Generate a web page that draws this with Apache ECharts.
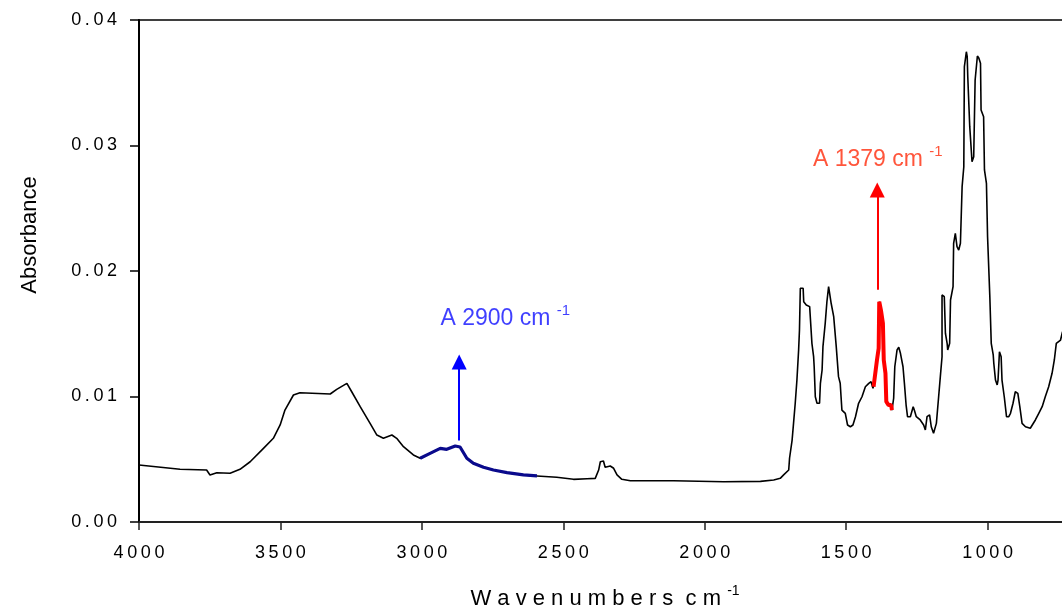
<!DOCTYPE html>
<html>
<head>
<meta charset="utf-8">
<title>IR spectrum</title>
<script src="https://cdn.jsdelivr.net/npm/echarts@6/dist/echarts.min.js"></script>
<style>
    html, body { margin: 0; padding: 0; background: #fff; }
    #chart { width: 1062px; height: 614px; }
</style>
</head>
<body>
<div id="chart"></div>
<script>
// spectrum (cm-1, absorbance)
const wavenumbers = [
    4000, 3855, 3761, 3749, 3725, 3678, 3643, 3607, 3560, 3525,
    3501, 3484, 3454, 3431, 3324, 3301, 3265, 3248, 3218, 3183,
    3159, 3136, 3106, 3089, 3065, 3030, 3006, 2971, 2935, 2912,
    2882, 2865, 2841, 2818, 2782, 2747, 2699, 2641, 2593, 2523,
    2464, 2416, 2387, 2375, 2369, 2358, 2352, 2334, 2322, 2310,
    2293, 2263, 2110, 1933, 1803, 1756, 1733, 1721, 1703, 1700,
    1691, 1686, 1680, 1674, 1668, 1665, 1662, 1652, 1650, 1644,
    1641, 1629, 1624, 1621, 1615, 1613, 1609, 1603, 1594, 1591,
    1585, 1582, 1574, 1568, 1562, 1556, 1553, 1544, 1535, 1527,
    1521, 1515, 1503, 1495, 1485, 1476, 1467, 1456, 1444, 1432,
    1420, 1412, 1405, 1403, 1391, 1385, 1383, 1377, 1370, 1367,
    1361, 1358, 1350, 1341, 1338, 1332, 1328, 1320, 1314, 1308,
    1299, 1294, 1288, 1283, 1273, 1263, 1259, 1252, 1238, 1226,
    1220, 1214, 1205, 1199, 1191, 1185, 1181, 1173, 1167, 1161,
    1161, 1153, 1149, 1143, 1141, 1134, 1131, 1122, 1120, 1114,
    1110, 1108, 1102, 1096, 1090, 1084, 1082, 1075, 1072, 1070,
    1063, 1055, 1049, 1044, 1036, 1031, 1025, 1023, 1014, 1011,
    1004, 1000, 992, 987, 980, 978, 972, 966, 963, 958,
    952, 949, 941, 933, 925, 919, 910, 902, 893, 886,
    878, 866, 849, 843, 831, 819, 807, 796, 784, 772,
    764, 757, 742, 735
];
const absorbance = [
    0.00454, 0.00420, 0.00414, 0.00375, 0.00393, 0.00388, 0.00420, 0.00480, 0.00587, 0.00667,
    0.00773, 0.00892, 0.01012, 0.01030, 0.01020, 0.01057, 0.01105, 0.01038, 0.00919, 0.00786,
    0.00693, 0.00667, 0.00693, 0.00667, 0.00600, 0.00534, 0.00508, 0.00547, 0.00587, 0.00579,
    0.00606, 0.00598, 0.00508, 0.00468, 0.00436, 0.00414, 0.00393, 0.00375, 0.00367, 0.00356,
    0.00340, 0.00345, 0.00348, 0.00414, 0.00480, 0.00486, 0.00436, 0.00446, 0.00428, 0.00375,
    0.00340, 0.00329, 0.00329, 0.00321, 0.00324, 0.00335, 0.00348, 0.00375, 0.00414, 0.00510,
    0.00653, 0.00786, 0.00946, 0.01131, 0.01371, 0.01530, 0.01862, 0.01862, 0.01755, 0.01755,
    0.01729, 0.01716, 0.01703, 0.01424, 0.01317, 0.01237, 0.00998, 0.00946, 0.00946, 0.01105,
    0.01211, 0.01397, 0.01583, 0.01755, 0.01875, 0.01875, 0.01743, 0.01636, 0.01397, 0.01158,
    0.01105, 0.00892, 0.00866, 0.00773, 0.00759, 0.00773, 0.00839, 0.00946, 0.00998, 0.01078,
    0.01105, 0.01118, 0.01065, 0.01078, 0.01291, 0.01384, 0.01755, 0.01689, 0.01583, 0.01291,
    0.01185, 0.00959, 0.00932, 0.00932, 0.00892, 0.00986, 0.01237, 0.01371, 0.01392, 0.01344,
    0.01237, 0.01105, 0.00932, 0.00839, 0.00839, 0.00919, 0.00892, 0.00839, 0.00813, 0.00773,
    0.00733, 0.00839, 0.00853, 0.00759, 0.00707, 0.00693, 0.00786, 0.00998, 0.01158, 0.01317,
    0.01809, 0.01795, 0.01504, 0.01424, 0.01371, 0.01424, 0.01769, 0.01875, 0.02221, 0.02300,
    0.02300, 0.02194, 0.02167, 0.02221, 0.02672, 0.02831, 0.03628, 0.03747, 0.03708, 0.03548,
    0.03150, 0.02871, 0.02911, 0.03522, 0.03713, 0.03697, 0.03655, 0.03283, 0.03229, 0.02805,
    0.02699, 0.02273, 0.01795, 0.01424, 0.01331, 0.01265, 0.01131, 0.01092, 0.01131, 0.01357,
    0.01317, 0.01131, 0.00998, 0.00839, 0.00839, 0.00866, 0.00946, 0.01038, 0.01025, 0.00919,
    0.00786, 0.00759, 0.00747, 0.00759, 0.00813, 0.00866, 0.00919, 0.00998, 0.01078, 0.01185,
    0.01291, 0.01424, 0.01450, 0.01516
];

// highlighted bands (cm-1)
const band2900 = [2593, 3006];
const band1379 = [1338, 1403];

// arrows: x, from, to
const arrowWn = [2868, 1390];
const arrowFrom = [0.0065, 0.0185];
const arrowTo = [0.01275, 0.02645];

// label anchors
const labelText = ['A 2900 cm ', 'A 1379 cm '];
const labelWn = [2705, 1388];
const labelAbs = [0.0162, 0.0289];

const FONT = '"Liberation Sans", Arial, sans-serif';
const BLUE = '#0000ff';
const RED = '#ff0000';
const labelColors = ['#0f0fff', '#ff2a0a'];
const arrowColors = [BLUE, RED];

const spectrum = wavenumbers.map((w, i) => [w, absorbance[i]]);
const inBand = (band) => spectrum.filter(p => p[0] >= band[0] && p[0] <= band[1]);

// pad characters the way the original plot spaces its tick labels
const spaced = (s, sep) => s.split('').join(sep);

const chart = echarts.init(document.getElementById('chart'));

chart.setOption({
    animation: false,
    backgroundColor: '#fff',
    textStyle: { fontFamily: FONT },
    grid: {
        left: 139,
        top: 20,
        width: 990,
        height: 502,
        containLabel: false,
        outerBoundsMode: 'none',
        show: true,
        borderColor: '#000',
        borderWidth: 1.5,
        backgroundColor: 'transparent'
    },
    xAxis: {
        type: 'value',
        inverse: true,
        min: 500,
        max: 4000,
        interval: 500,
        name: '{t|' + spaced('Wavenumbers', ' ') + '  c m }{s|-1}',
        nameLocation: 'middle',
        nameGap: 62,
        nameTextStyle: {
            padding: [0, 58, 0, 0],
            rich: {
                t: { fontSize: 22, color: '#000', fontFamily: FONT, lineHeight: 30 },
                s: { fontSize: 14, color: '#000', fontFamily: FONT, lineHeight: 14, verticalAlign: 'top' }
            }
        },
        axisLine: { onZero: false, lineStyle: { color: '#222', width: 2 } },
        axisTick: { inside: false, length: 8, lineStyle: { color: '#222', width: 1.5 } },
        axisLabel: {
            margin: 22,
            fontSize: 18,
            color: '#000',
            fontFamily: FONT,
            formatter: (v) => spaced(String(v), '\u2009')
        },
        splitLine: { show: false }
    },
    yAxis: {
        type: 'value',
        min: 0,
        max: 0.04,
        interval: 0.01,
        name: 'Absorbance',
        nameLocation: 'middle',
        nameRotate: 90,
        nameGap: 98,
        nameTextStyle: {
            fontSize: 22,
            color: '#000',
            fontFamily: FONT,
            padding: [0, 0, 0, 72]
        },
        axisLine: { show: true, lineStyle: { color: '#000', width: 2 } },
        axisTick: { show: true, inside: false, length: 9, lineStyle: { color: '#000', width: 1.5 } },
        axisLabel: {
            margin: 22,
            fontSize: 18,
            color: '#000',
            fontFamily: FONT,
            formatter: (v) => spaced(v.toFixed(2), '\u2009')
        },
        splitLine: { show: false }
    },
    series: [
        {
            name: 'spectrum',
            type: 'line',
            data: spectrum,
            showSymbol: false,
            symbol: 'none',
            lineStyle: { color: '#000', width: 1.6 },
            z: 2,
            markLine: {
                silent: true,
                symbol: ['none', 'triangle'],
                symbolSize: 15,
                label: { show: false },
                data: arrowWn.map((w, i) => [
                    { coord: [w, arrowFrom[i]], lineStyle: { color: arrowColors[i], width: 2, type: 'solid' }, itemStyle: { color: arrowColors[i] } },
                    { coord: [w, arrowTo[i]] }
                ])
            }
        },
        {
            name: 'A 2900',
            type: 'line',
            data: inBand(band2900),
            symbol: 'none',
            lineStyle: { color: '#0a0a8c', width: 3.2 },
            z: 3
        },
        {
            name: 'A 1379',
            type: 'line',
            data: inBand(band1379),
            symbol: 'none',
            lineStyle: { color: RED, width: 4 },
            z: 3
        },
        {
            name: 'labels',
            type: 'scatter',
            symbolSize: 0,
            silent: true,
            z: 4,
            data: labelText.map((t, i) => ({
                value: [labelWn[i], labelAbs[i]],
                label: {
                    show: true,
                    position: 'inside',
                    formatter: '{t|' + t + '}{s|-1}',
                    rich: {
                        t: { fontSize: 23, color: labelColors[i], fontFamily: FONT, lineHeight: 30 },
                        s: { fontSize: 15, color: labelColors[i], fontFamily: FONT, lineHeight: 15, verticalAlign: 'top' }
                    }
                }
            }))
        }
    ]
});

window.addEventListener('resize', () => chart.resize());
</script>
</body>
</html>
